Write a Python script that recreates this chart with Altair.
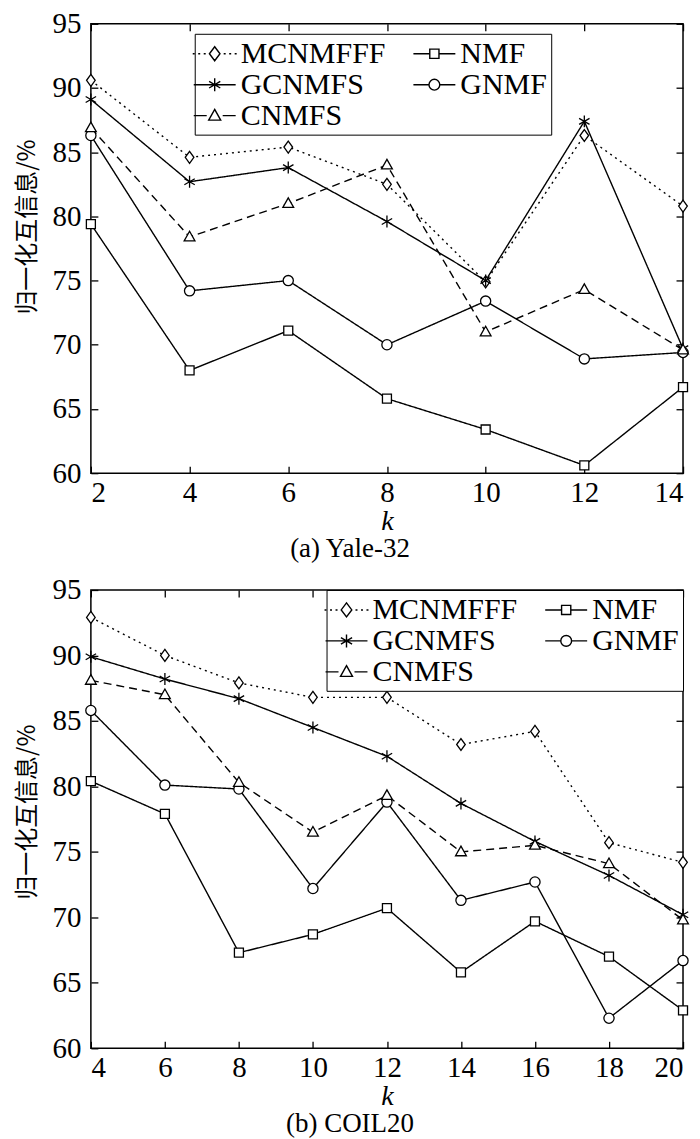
import altair as alt
import pandas as pd

SERIF = "Liberation Serif"
CJK = "Noto Sans CJK SC"

SERIES = ["MCNMFFF", "NMF", "GCNMFS", "GNMF", "CNMFS"]
# legend fills column by column: this order reads MCNMFFF, NMF / GCNMFS, GNMF / CNMFS row-wise
LEGEND_ORDER = ["MCNMFFF", "GCNMFS", "CNMFS", "NMF", "GNMF"]

# (a) Yale-32
k_yale = [2, 4, 6, 8, 10, 12, 14]
yale_mcnmfff = [90.6, 84.6, 85.4, 82.5, 74.9, 86.3, 80.8]
yale_gcnmfs = [89.1, 82.7, 83.8, 79.6, 75.0, 87.4, 69.7]
yale_cnmfs = [86.9, 78.4, 81.0, 84.0, 71.0, 74.3, 69.6]
yale_gnmf = [86.3, 74.2, 75.0, 70.0, 73.4, 68.9, 69.4]
yale_nmf = [79.4, 68.0, 71.1, 65.8, 63.4, 60.6, 66.7]

# (b) COIL20
k_coil = [4, 6, 8, 10, 12, 14, 16, 18, 20]
coil_mcnmfff = [92.9, 90.0, 87.9, 86.8, 86.8, 83.2, 84.2, 75.7, 74.2]
coil_gcnmfs = [89.9, 88.2, 86.7, 84.5, 82.3, 78.7, 75.8, 73.2, 70.2]
coil_cnmfs = [88.1, 87.0, 80.3, 76.5, 79.3, 75.0, 75.5, 74.1, 69.8]
coil_gnmf = [85.8, 80.1, 79.8, 72.2, 78.8, 71.3, 72.7, 62.3, 66.7]
coil_nmf = [80.4, 77.9, 67.3, 68.7, 70.7, 65.8, 69.7, 67.0, 62.9]

y_ticks = [60, 65, 70, 75, 80, 85, 90, 95]
y_title = "归一化互信息/%"

point_paths = {
    "MCNMFFF": "M0,-1L0.72,0L0,1L-0.72,0Z",
    "NMF": "M-0.75,-0.75L0.75,-0.75L0.75,0.75L-0.75,0.75Z",
    "GCNMFS": "M0,-1L0,1M-0.87,-0.5L0.87,0.5M-0.87,0.5L0.87,-0.5",
    "GNMF": "M0.85,0A0.85,0.85,0,1,1,-0.85,0A0.85,0.85,0,1,1,0.85,0Z",
    "CNMFS": "M0,-0.95L0.9,0.65L-0.9,0.65Z",
}

# legend glyphs drawn in pixels around the centre, then scaled to the symbol's unit box
LEG_UNIT = 15.0
legend_px = {
    "MCNMFFF": [("M", -29, 0),
                ("M", -22, 0), ("L", -20, 0), ("M", -16.5, 0), ("L", -14.5, 0),
                ("M", -11, 0), ("L", -9, 0), ("M", 9, 0), ("L", 11, 0),
                ("M", 14.5, 0), ("L", 16.5, 0), ("M", 20, 0), ("L", 22, 0),
                ("M", 0, -7), ("L", 5.3, 0), ("L", 0, 7), ("L", -5.3, 0), ("Z",)],
    "NMF": [("M", -29, 0),
            ("M", -21, 0), ("L", -4.6, 0), ("M", 4.6, 0), ("L", 21, 0),
            ("M", -4.6, -4.6), ("L", 4.6, -4.6), ("L", 4.6, 4.6), ("L", -4.6, 4.6), ("Z",)],
    "GCNMFS": [("M", -29, 0),
               ("M", -21, 0), ("L", 21, 0), ("M", 0, -6.5), ("L", 0, 6.5),
               ("M", -5.6, -3.3), ("L", 5.6, 3.3), ("M", -5.6, 3.3), ("L", 5.6, -3.3)],
    "GNMF": [("M", -29, 0),
             ("M", -21, 0), ("L", -5.4, 0), ("M", 5.4, 0), ("L", 21, 0),
             ("C", 5.4)],
    "CNMFS": [("M", -29, 0),
              ("M", -21, 0), ("L", -8, 0), ("M", 8, 0), ("L", 21, 0),
              ("M", 0, -6.3), ("L", 6, 4.5), ("L", -6, 4.5), ("Z",)],
}


def to_path(cmds):
    out = []
    for c in cmds:
        if c[0] == "Z":
            out.append("Z")
        elif c[0] == "C":
            r = c[1] / LEG_UNIT
            out.append(f"M{r:.3f},0A{r:.3f},{r:.3f},0,1,1,{-r:.3f},0A{r:.3f},{r:.3f},0,1,1,{r:.3f},0Z")
        else:
            out.append(f"{c[0]}{c[1] / LEG_UNIT:.3f},{c[2] / LEG_UNIT:.3f}")
    return "".join(out)


legend_paths = {s: to_path(v) for s, v in legend_px.items()}
dashes = {"MCNMFFF": [2, 4], "NMF": [1, 0], "GCNMFS": [1, 0], "GNMF": [1, 0], "CNMFS": [8, 5]}

W = 593


def long_df(k, vals):
    rows = []
    for name in SERIES:
        for kk, v in zip(k, vals[name]):
            rows.append({"k": kk, "value": v, "series": name})
    return pd.DataFrame(rows)


def panel(k, vals, subtitle, H, title_y, legend_kw):
    df = long_df(k, vals)
    xs = alt.Scale(domain=[k[0], k[-1]], nice=False, zero=False)
    ys = alt.Scale(domain=[60, 95], nice=False, zero=False)
    base = alt.Chart(df)

    x_axis = alt.Axis(values=k, ticks=False, domain=False, grid=False,
                      labelFont=SERIF, labelFontSize=29, labelColor="black", labelPadding=5,
                      title="k", titleFont=SERIF, titleFontSize=28, titleFontStyle="italic",
                      titleFontWeight="normal", titleColor="black", titlePadding=0)
    y_axis = alt.Axis(values=y_ticks, ticks=False, domain=False, grid=False,
                      labelFont=SERIF, labelFontSize=29, labelColor="black", labelPadding=10,
                      title=y_title, titleFont=CJK, titleFontSize=24, titleFontWeight="normal",
                      titleColor="black", titlePadding=12, titleY=title_y)

    lines = base.mark_line(color="black", strokeWidth=1.4).encode(
        x=alt.X("k:Q", scale=xs, axis=x_axis),
        y=alt.Y("value:Q", scale=ys, axis=y_axis),
        strokeDash=alt.StrokeDash("series:N",
                                  scale=alt.Scale(domain=SERIES, range=[dashes[s] for s in SERIES]),
                                  legend=None),
    )
    points = base.mark_point(filled=True, fill="white", stroke="black", strokeWidth=1.3,
                             size=144, opacity=1).encode(
        x=alt.X("k:Q", axis=None),
        y=alt.Y("value:Q", axis=None),
        shape=alt.Shape("series:N",
                        scale=alt.Scale(domain=SERIES, range=[point_paths[s] for s in SERIES]),
                        legend=None),
    )
    leg = base.transform_filter("false").mark_point(filled=False, color="black").encode(
        x=alt.X("k:Q", axis=None),
        y=alt.Y("value:Q", axis=None),
        shape=alt.Shape("series:N",
                        scale=alt.Scale(domain=LEGEND_ORDER,
                                        range=[legend_paths[s] for s in LEGEND_ORDER]),
                        legend=alt.Legend(title=None, columns=2, strokeColor="black", fillColor="white",
                                          padding=4, labelFont=SERIF, labelFontSize=30,
                                          labelColor="black", labelLimit=400, labelOffset=10,
                                          symbolSize=900, symbolStrokeWidth=1.4,
                                          symbolStrokeColor="black", symbolFillColor="white",
                                          symbolOpacity=1, rowPadding=0, columnPadding=16,
                                          **legend_kw)),
    )
    tk = dict(labels=False, domain=False, grid=False, ticks=True, tickSize=7,
              tickColor="black", tickWidth=1.3, title=None)
    ticksA = base.transform_filter("false").mark_point().encode(
        x=alt.X("k:Q", axis=alt.Axis(orient="top", offset=-H, values=k, **tk)),
        y=alt.Y("value:Q", axis=alt.Axis(orient="right", offset=-W, values=y_ticks, **tk)),
    )
    ticksB = base.transform_filter("false").mark_point().encode(
        x=alt.X("k:Q", axis=alt.Axis(orient="bottom", offset=-H, values=k, **tk)),
        y=alt.Y("value:Q", axis=alt.Axis(orient="left", offset=-W, values=y_ticks, **tk)),
    )
    return alt.layer(lines, points, leg, ticksA, ticksB).resolve_scale(
        shape="independent"
    ).resolve_axis(x="independent", y="independent").properties(
        width=W, height=H,
        title=alt.TitleParams(subtitle, orient="bottom", font=SERIF, fontSize=27,
                              fontWeight="normal", color="black", anchor="middle",
                              dx=-37, offset=1),
    )


yale_vals = {"MCNMFFF": yale_mcnmfff, "NMF": yale_nmf, "GCNMFS": yale_gcnmfs,
             "GNMF": yale_gnmf, "CNMFS": yale_cnmfs}
coil_vals = {"MCNMFFF": coil_mcnmfff, "NMF": coil_nmf, "GCNMFS": coil_gcnmfs,
             "GNMF": coil_gnmf, "CNMFS": coil_cnmfs}

top = panel(k_yale, yale_vals, "(a) Yale-32", 450, 203,
            dict(orient="none", legendX=104, legendY=10))
bottom = panel(k_coil, coil_vals, "(b) COIL20", 459, 222,
               dict(orient="top-right", offset=0))

chart = alt.vconcat(top, bottom, spacing=12).properties(
    padding={"left": 7, "top": 0, "right": 0, "bottom": 0}, background="white"
).configure_view(stroke="black", strokeWidth=1.5)

chart.save("out.html", embed_options={"renderer": "svg", "actions": False})
